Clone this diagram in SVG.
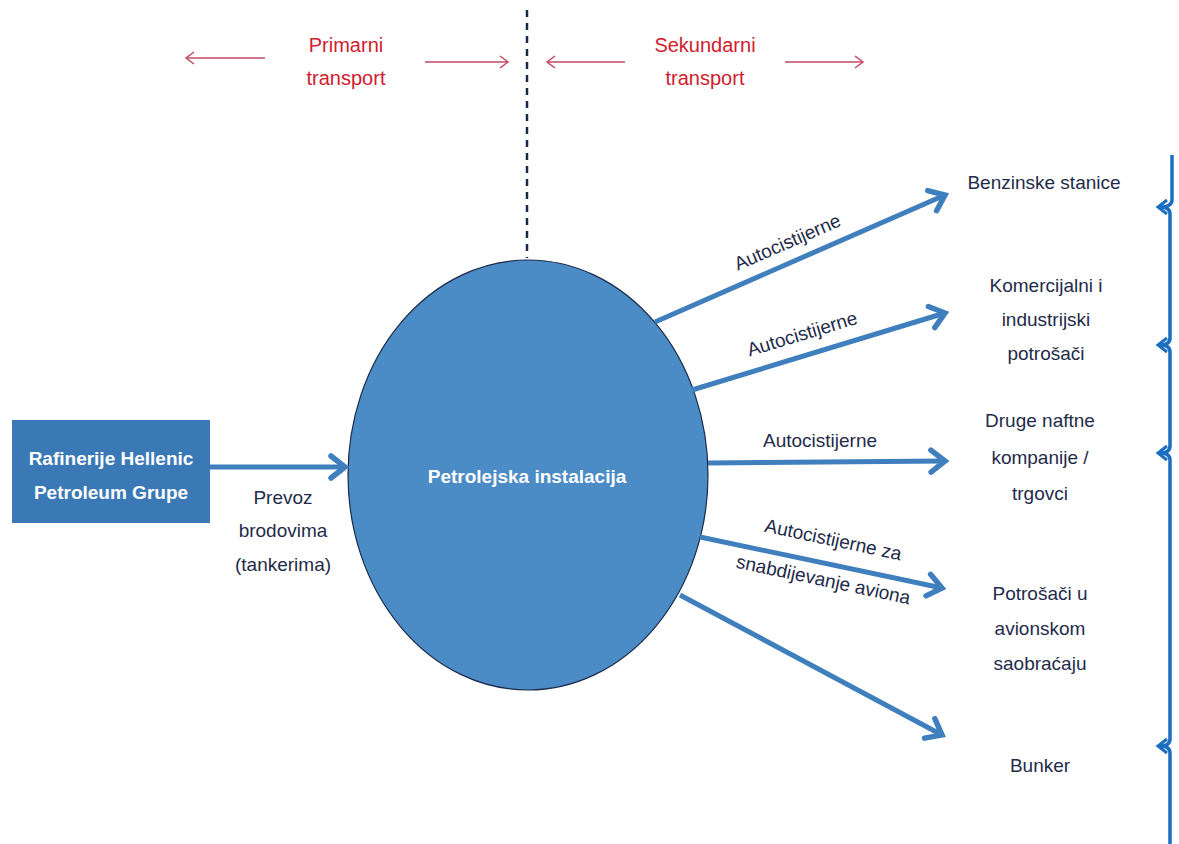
<svg xmlns="http://www.w3.org/2000/svg" width="1179" height="844" viewBox="0 0 1179 844">
<defs>
<marker id="bh" markerUnits="userSpaceOnUse" markerWidth="34" markerHeight="34" viewBox="-22 -17 34 34" refX="0" refY="0" orient="auto">
<path d="M-14,-11 L0,0 L-14,11" fill="none" stroke="#3f7fbe" stroke-width="5.5" stroke-linecap="round" stroke-linejoin="miter"/>
</marker>
<marker id="rh" markerUnits="userSpaceOnUse" markerWidth="20" markerHeight="20" viewBox="-12 -10 20 20" refX="0" refY="0" orient="auto">
<path d="M-8,-6 L0,0 L-8,6" fill="none" stroke="#c24a64" stroke-width="1.5"/>
</marker>
</defs>
<style>
.t{font-family:"Liberation Sans",Arial,sans-serif;font-size:19px;fill:#1f2b4a;text-anchor:middle}
.r{font-family:"Liberation Sans",Arial,sans-serif;font-size:20px;fill:#d0202e;text-anchor:middle}
.w{font-family:"Liberation Sans",Arial,sans-serif;font-size:19px;font-weight:bold;fill:#ffffff;text-anchor:middle}
.a{fill:none;stroke:#3f7fbe;stroke-width:5;marker-end:url(#bh)}
.ra{fill:none;stroke:#c24a64;stroke-width:1.5;marker-end:url(#rh)}
</style>
<rect width="1179" height="844" fill="#ffffff"/>

<g id="header">
<line x1="527" y1="10" x2="527" y2="258" stroke="#1c2a4a" stroke-width="2.5" stroke-dasharray="7,6"/>
<line class="ra" x1="265" y1="58" x2="186" y2="58"/>
<line class="ra" x1="425" y1="62" x2="508" y2="62"/>
<line class="ra" x1="625" y1="62" x2="547" y2="62"/>
<line class="ra" x1="785" y1="62" x2="863" y2="62"/>
<text class="r" x="346" y="52">Primarni</text>
<text class="r" x="346" y="85">transport</text>
<text class="r" x="705" y="52">Sekundarni</text>
<text class="r" x="705" y="85">transport</text>
</g>

<g id="refinery">
<rect x="12" y="420" width="198" height="103" fill="#3b79b6"/>
<text class="w" x="111" y="465">Rafinerije Hellenic</text>
<text class="w" x="111" y="499">Petroleum Grupe</text>
</g>

<g id="installation">
<ellipse cx="528" cy="475" rx="180" ry="215" fill="#4b8bc6" stroke="#1c2a4a" stroke-width="1.2"/>
<text class="w" x="527" y="483">Petrolejska instalacija</text>
</g>

<g id="connectors">
<line class="a" x1="210" y1="467" x2="345" y2="467"/>
<line class="a" x1="655" y1="322" x2="945" y2="195"/>
<line class="a" x1="692" y1="390" x2="945" y2="313"/>
<line class="a" x1="708" y1="463" x2="945" y2="461"/>
<line class="a" x1="700" y1="537" x2="942" y2="588"/>
<line class="a" x1="680" y1="595" x2="942" y2="735"/>
<text class="t" x="283" y="504">Prevoz</text>
<text class="t" x="283" y="537">brodovima</text>
<text class="t" x="283" y="571">(tankerima)</text>
<text class="t" transform="translate(790,248) rotate(-23.6)">Autocistijerne</text>
<text class="t" transform="translate(804,340) rotate(-16.9)">Autocistijerne</text>
<text class="t" x="820" y="447">Autocistijerne</text>
<text class="t" transform="translate(832,546) rotate(12)">Autocistijerne za</text>
<text class="t" transform="translate(822,586) rotate(12)">snabdijevanje aviona</text>
</g>

<g id="benzinske"><text class="t" x="1044" y="189">Benzinske stanice</text></g>
<g id="komercijalni">
<text class="t" x="1046" y="292">Komercijalni i</text>
<text class="t" x="1046" y="326">industrijski</text>
<text class="t" x="1046" y="360">potrošači</text>
</g>
<g id="druge">
<text class="t" x="1040" y="427">Druge naftne</text>
<text class="t" x="1040" y="464">kompanije /</text>
<text class="t" x="1040" y="500">trgovci</text>
</g>
<g id="avionski">
<text class="t" x="1040" y="600">Potrošači u</text>
<text class="t" x="1040" y="635">avionskom</text>
<text class="t" x="1040" y="670">saobraćaju</text>
</g>
<g id="bunker"><text class="t" x="1040" y="772">Bunker</text></g>

<g id="brace" fill="none" stroke="#1b6ec0" stroke-width="3.5">
<path d="M1172,155 V200 Q1172,207 1160,207 Q1170,207 1170,214 V338 Q1170,345 1160,345 Q1170,345 1170,352 V446 Q1170,453 1160,453 Q1170,453 1170,460 V739 Q1170,746 1160,746 Q1170,746 1170,753 V844"/>
<path d="M1167,200 L1158,207 L1167,214 M1167,338 L1158,345 L1167,352 M1167,446 L1158,453 L1167,460 M1167,739 L1158,746 L1167,753" stroke-width="3"/>
</g>
</svg>
